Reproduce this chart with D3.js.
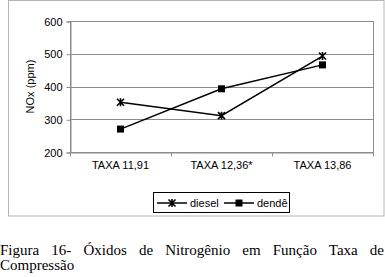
<!DOCTYPE html>
<html><head><meta charset="utf-8">
<script src="https://cdn.jsdelivr.net/npm/d3@7"></script>
<style>
body{margin:0;background:#fff;}
#cap{position:absolute;left:0;top:243px;width:384px;font-family:"Liberation Serif","Times New Roman",serif;font-size:15px;line-height:15px;text-align:justify;text-align-last:left;color:#000;}
</style></head><body>
<svg id="chart" width="385" height="230" style="position:absolute;left:0;top:0"></svg>
<div id="cap">Figura 16- Óxidos de Nitrogênio em Função Taxa de Compressão</div>
<script>
const categories = ["TAXA 11,91", "TAXA 12,36*", "TAXA 13,86"];
const diesel = [352, 311, 493];
const dende = [270, 393, 466];
const yTicks = [200, 300, 400, 500, 600];
const seriesNames = ["diesel", "dendê"];

const svg = d3.select("#chart");
const L = 70, R = 373, T = 21, B = 152;
const x = d3.scaleBand().domain(categories).range([L, R]);
const y = d3.scaleLinear().domain([200, 600]).range([B, T]);

// outer frame
svg.append("rect").attr("x", 8.5).attr("y", 0.5).attr("width", 375.5).attr("height", 215.5)
  .attr("fill", "none").attr("stroke", "#b5b5b5");

// gridlines
svg.append("g").selectAll("line").data(yTicks.slice(1)).join("line")
  .attr("x1", L).attr("x2", R).attr("y1", d => Math.round(y(d)) + 0.5).attr("y2", d => Math.round(y(d)) + 0.5)
  .attr("stroke", "#8c8c8c");
// plot border
svg.append("rect").attr("x", L + 0.5).attr("y", Math.round(T) + 0.5).attr("width", R - L).attr("height", B - T)
  .attr("fill", "none").attr("stroke", "#8c8c8c");

// y axis
const yAxis = d3.axisLeft(y).tickValues(yTicks).tickSize(4).tickPadding(4);
const gy = svg.append("g").attr("transform", `translate(${L + 0.5},0.5)`).call(yAxis);
gy.select(".domain").attr("stroke", "#8c8c8c");
gy.selectAll(".tick line").attr("stroke", "#8c8c8c");
gy.selectAll("text").attr("font-family", "Liberation Sans, Arial, sans-serif").attr("font-size", 11).attr("fill", "#000");

// x axis
const xAxis = d3.axisBottom(x).tickSize(0).tickPadding(9);
const gx = svg.append("g").attr("transform", `translate(0,${B + 0.5})`).call(xAxis);
gx.select(".domain").attr("stroke", "#8c8c8c");
gx.selectAll("text").attr("font-family", "Liberation Sans, Arial, sans-serif").attr("font-size", 11).attr("fill", "#000");
// category boundary ticks
const bounds = categories.map(c => x(c)).concat([R]);
gx.selectAll(".bt").data(bounds).join("line").attr("class", "bt")
  .attr("x1", d => Math.round(d) + 0.5).attr("x2", d => Math.round(d) + 0.5).attr("y1", 0).attr("y2", 4)
  .attr("stroke", "#8c8c8c");

// y label
svg.append("text").attr("transform", `translate(34,${(T + B) / 2}) rotate(-90)`)
  .attr("text-anchor", "middle").attr("font-family", "Liberation Sans, Arial, sans-serif").attr("font-size", 11)
  .text("NOx (ppm)");

const cx = d => x(d) + x.bandwidth() / 2;
const line = d3.line().x((d, i) => cx(categories[i])).y(d => y(d));

function star(g, px, py, s) {
  g.append("path").attr("d", `M${px - s},${py - s}L${px + s},${py + s}M${px - s},${py + s}L${px + s},${py - s}M${px},${py - s - 0.5}L${px},${py + s + 0.5}`)
    .attr("stroke", "#000").attr("stroke-width", 1.6).attr("fill", "none");
}
function square(g, px, py, s) {
  g.append("rect").attr("x", px - s).attr("y", py - s).attr("width", 2 * s).attr("height", 2 * s).attr("fill", "#000");
}

const gl = svg.append("g");
gl.append("path").attr("d", line(diesel)).attr("fill", "none").attr("stroke", "#000").attr("stroke-width", 1.5);
gl.append("path").attr("d", line(dende)).attr("fill", "none").attr("stroke", "#000").attr("stroke-width", 1.5);
diesel.forEach((v, i) => star(gl, cx(categories[i]), y(v), 3.5));
dende.forEach((v, i) => square(gl, cx(categories[i]), y(v), 3.5));

// legend
const lg = svg.append("g");
lg.append("rect").attr("x", 153.5).attr("y", 192.5).attr("width", 136).attr("height", 20)
  .attr("fill", "#fff").attr("stroke", "#000");
const ly = 203;
const items = [{name: seriesNames[0], x0: 157, m: star}, {name: seriesNames[1], x0: 224, m: square}];
items.forEach(it => {
  lg.append("line").attr("x1", it.x0).attr("x2", it.x0 + 30).attr("y1", ly).attr("y2", ly).attr("stroke", "#000").attr("stroke-width", 1.5);
  it.m(lg, it.x0 + 15, ly, 3.5);
  lg.append("text").attr("x", it.x0 + 33).attr("y", ly + 4).attr("font-family", "Liberation Sans, Arial, sans-serif")
    .attr("font-size", 11).text(it.name);
});
</script></body></html>
